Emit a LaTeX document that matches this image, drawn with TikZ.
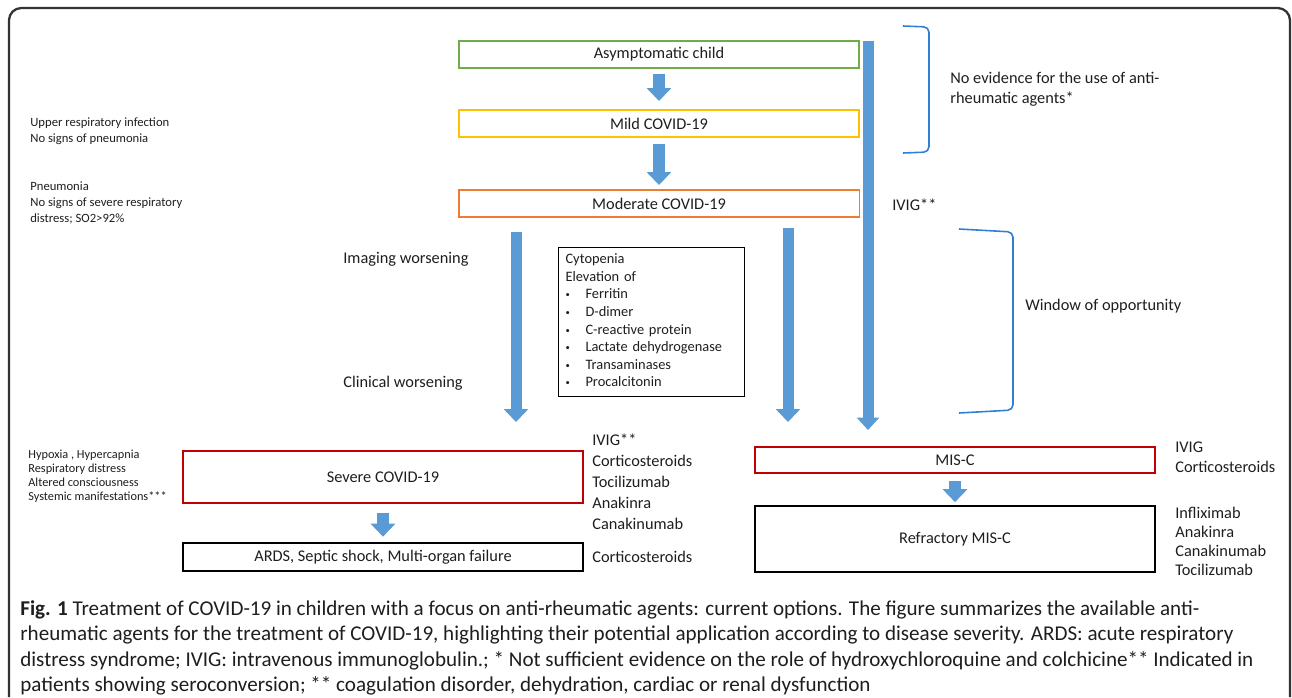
\documentclass[tikz,border=0pt]{standalone}
\usepackage{fontspec}
\setmainfont{Carlito}
\usetikzlibrary{arrows.meta}
\definecolor{inkgray}{HTML}{1E1E1E}
\definecolor{arrowblue}{HTML}{5B9BD5}
\definecolor{bracketblue}{HTML}{2F7FD3}
\definecolor{boxgreen}{HTML}{70AD47}
\definecolor{boxyellow}{HTML}{FFC000}
\definecolor{boxorange}{HTML}{ED7D31}
\definecolor{boxred}{HTML}{C00000}
\newcommand{\smallbullet}{\raisebox{0.15ex}{\scalebox{0.6}{\textbullet}}}
\begin{document}
\begin{tikzpicture}[x=0.02cm,y=-0.02cm,
                    every node/.style={text=inkgray},
                    stage/.style={draw, line width=1.1pt, minimum width=8cm, minimum height=0.54cm, inner sep=0pt, font=\fontsize{9.3}{11}\selectfont},
                    note/.style={anchor=west, align=left, inner sep=0pt, font=\fontsize{9.3}{11.4}\selectfont},
                    smallnote/.style={anchor=west, align=left, inner sep=0pt, font=\fontsize{7.2}{9.1}\selectfont},
                    sidenote/.style={anchor=west, align=left, inner sep=0pt, font=\fontsize{7}{8}\selectfont},
                    blockarr/.style={arrowblue, line width=0.24cm, -{Triangle[width=0.48cm,length=0.26cm]}},
                    bracket/.style={bracketblue, line width=0.9pt, rounded corners=3pt}]
                    \useasboundingbox (0,0) rectangle (1292,697);
                    \draw[black!80, line width=1.3pt, rounded corners=7pt] (9,697) -- (9,8) -- (1290,8) -- (1290,697);
                    \node[stage, draw=boxgreen] (asym) at (659,54.5) {Asymptomatic child};
                    \node[stage, draw=boxyellow] (mild) at (659,123.5) {Mild COVID-19};
                    \node[stage, draw=boxorange, minimum width=8.02cm] (moderate) at (659,203.5) {Moderate COVID-19};
                    \node[stage, draw=boxred, minimum height=1.04cm] (severe) at (383,477) {Severe COVID-19};
                    \node[stage, draw=black, line width=1.5pt, minimum height=0.56cm] (ards) at (383,557) {ARDS, Septic shock, Multi-organ failure};
                    \node[stage, draw=boxred, minimum height=0.52cm] (misc) at (955,460) {MIS-C};
                    \node[stage, draw=black, line width=1.5pt, minimum height=1.32cm] (refmisc) at (955,539) {Refractory MIS-C};
                    \node[draw=black, line width=0.6pt, anchor=north west, inner xsep=0.14cm, inner ysep=0.08cm, text width=3.44cm, font=\fontsize{8.2}{10}\selectfont] (labs) at (558,247)
                        {\begin{tabular}{@{}p{0.4cm}@{}l@{}}
                         \multicolumn{2}{@{}l@{}}{Cytopenia}\\
                         \multicolumn{2}{@{}l@{}}{Elevation of}\\
                         \smallbullet & Ferritin\\
                         \smallbullet & D-dimer\\
                         \smallbullet & C-reactive protein\\
                         \smallbullet & Lactate dehydrogenase\\
                         \smallbullet & Transaminases\\
                         \smallbullet & Procalcitonin
                         \end{tabular}};
                    \draw[blockarr, shorten <=0.1cm, shorten >=0.16cm] (asym) -- (mild);
                    \draw[blockarr, shorten <=0.12cm, shorten >=0.08cm] (mild) -- (moderate);
                    \draw[blockarr, shorten <=0.18cm, shorten >=0.1cm] (severe) -- (ards);
                    \draw[blockarr, shorten <=0.14cm, shorten >=0.05cm] (misc) -- (refmisc);
                    \coordinate (sevtop) at (516,232);
                    \coordinate (sevtip) at (516,422);
                    \coordinate (misctop) at (788,228);
                    \coordinate (misctip) at (788,422);
                    \coordinate (ivigtop) at (868,41);
                    \coordinate (ivigtip) at (868,430);
                    \draw[blockarr, line width=0.22cm] (sevtop) -- (sevtip);
                    \draw[blockarr, line width=0.22cm] (misctop) -- (misctip);
                    \draw[blockarr, line width=0.22cm, -{Triangle[width=0.44cm,length=0.25cm]}] (ivigtop) -- (ivigtip);
                    \draw[bracket] (903,26) -- (929,27) -- (929,152) -- (903,153);
                    \draw[bracket] (959,229) -- (1013,232) -- (1013,410) -- (959,413);
                    \node[smallnote] (uri) at (30,131.5) {Upper respiratory infection\\No signs of pneumonia};
                    \node[smallnote] (pneu) at (30,203) {Pneumonia\\No signs of severe respiratory\\distress; SO2>92\%};
                    \node[sidenote] (hypox) at (28,476) {Hypoxia , Hypercapnia\\Respiratory distress\\Altered consciousness\\Systemic manifestations***};
                    \node[note] (imaging) at (343,259) {Imaging worsening};
                    \node[note] (clinical) at (343,383) {Clinical worsening};
                    \node[note] (noevid) at (950,89) {No evidence for the use of anti-\\rheumatic agents*};
                    \node[note] (ivigmod) at (892,205) {IVIG**};
                    \node[note] (window) at (1025,306) {Window of opportunity};
                    \node[note, font=\fontsize{9.3}{11.95}\selectfont] (sevdrugs) at (592,482) {IVIG**\\Corticosteroids\\Tocilizumab\\Anakinra\\Canakinumab};
                    \node[note] (ardsdrug) at (592,557) {Corticosteroids};
                    \node[note] (miscdrugs) at (1175,457) {IVIG\\Corticosteroids};
                    \node[note, font=\fontsize{9.3}{10.8}\selectfont] (refdrugs) at (1175,541.5) {Infliximab\\Anakinra\\Canakinumab\\Tocilizumab};
                    \node[anchor=north west, align=left, inner sep=0pt, font=\fontsize{12}{14.5}\selectfont] (caption) at (20,600)
                        {\textbf{Fig. 1} Treatment of COVID-19 in children with a focus on anti-rheumatic agents: current options. The figure summarizes the available anti-\\
                         rheumatic agents for the treatment of COVID-19, highlighting their potential application according to disease severity. ARDS: acute respiratory\\
                         distress syndrome; IVIG: intravenous immunoglobulin.; * Not sufficient evidence on the role of hydroxychloroquine and colchicine** Indicated in\\
                         patients showing seroconversion; ** coagulation disorder, dehydration, cardiac or renal dysfunction};
                \end{tikzpicture}
\end{document}
